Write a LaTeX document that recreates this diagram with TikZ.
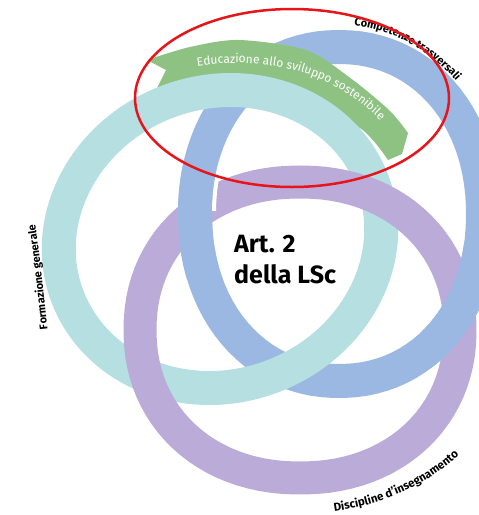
\documentclass[tikz,border=0pt]{standalone}
\usepackage{fontspec}
\setmainfont{Fira Sans}
\usetikzlibrary{decorations.text}
\definecolor{ringteal}{HTML}{B5DFE0}
\definecolor{ringblue}{HTML}{9BB8E2}
\definecolor{ringpurple}{HTML}{BBABD8}
\definecolor{bandgreen}{HTML}{8DC283}
\definecolor{markred}{HTML}{E8141B}
\begin{document}
\begin{tikzpicture}[x=1pt,y=-1pt,
  ringline/.style={line width=34pt},
  bigtext/.style={font=\bfseries\fontsize{25}{30}\selectfont, anchor=base west, inner sep=0pt}]
\useasboundingbox (0,0) rectangle (479,515);
% blue ring (Competenze trasversali)
\draw[ringblue, ringline] plot[domain=1:361, samples=100] ({339+144*ifthenelse(cos(\x)<0,-1,1)*pow(abs(cos(\x)),0.95)},{214+167*ifthenelse(sin(\x)<0,-1,1)*pow(abs(sin(\x)),0.95)}) -- cycle;
% green band
\fill[bandgreen] plot[smooth] coordinates {(147,60) (190,47) (239,40) (306,50) (349,77) (389,110) (408,133)} -- (402,154) -- (388,160) -- plot[smooth] coordinates {(388,160) (360,128) (300,102) (240,94) (180,100) (160,96)} -- (157,88) -- (166,70) -- cycle;
% teal ring (Formazione generale)
\draw[ringteal, ringline, rotate around={20:(220,239)}] (220,239) ellipse [x radius=163pt, y radius=147pt];
% purple ring (Discipline d'insegnamento)
\draw[ringpurple, line width=33pt] plot[domain=1:361, samples=100] ({300+160*ifthenelse(cos(\x)<0,-1,1)*pow(abs(cos(\x)),0.94)},{330+148*ifthenelse(sin(\x)<0,-1,1)*pow(abs(sin(\x)),0.94)}) -- cycle;
% blue passes over purple (left and right crossings)
\begin{scope}
  \clip (160,160) rectangle (226,280) (422,245) rectangle (479,365);
  \draw[ringblue, ringline] plot[domain=1:361, samples=100] ({339+144*ifthenelse(cos(\x)<0,-1,1)*pow(abs(cos(\x)),0.95)},{214+167*ifthenelse(sin(\x)<0,-1,1)*pow(abs(sin(\x)),0.95)}) -- cycle;
\end{scope}
% white gap where purple ends under blue
\begin{scope}
  \clip (205,160) rectangle (235,222);
  \draw[white, line width=4pt] plot[domain=181:269, samples=40] ({339-125*pow(abs(cos(\x)),0.95)},{214-148*pow(abs(sin(\x)),0.95)});
\end{scope}
% curved labels
\path[decorate, decoration={text along path, text align=center, text={|\bfseries\fontsize{11}{13}\selectfont|Competenze trasversali}}] (345,25) .. controls (390,27) and (432,50) .. (462,88);
\path[decorate, decoration={text along path, text align=center, text color=white, text={|\fontsize{12}{14}\selectfont|Educazione allo sviluppo sostenibile}}] (183,69) .. controls (260,52) and (340,70) .. (390,132);
\path[decorate, decoration={text along path, text align=center, text={|\bfseries\fontsize{11}{13}\selectfont|Formazione generale}}] (49,342) .. controls (44,300) and (40,250) .. (33,212);
\path[decorate, decoration={text along path, text align=center, text={|\bfseries\fontsize{11.5}{13}\selectfont|Discipline d’insegnamento}}] (313,513) .. controls (375,510) and (435,485) .. (474,440);
% centre text
\node[bigtext] (art) at (234,252) {Art. 2};
\node[bigtext] (lsc) at (234,283) {della LSc};
% red highlight
\draw[markred, line width=2.5pt] (292,98) ellipse [x radius=157pt, y radius=89pt];
\end{tikzpicture}
\end{document}
